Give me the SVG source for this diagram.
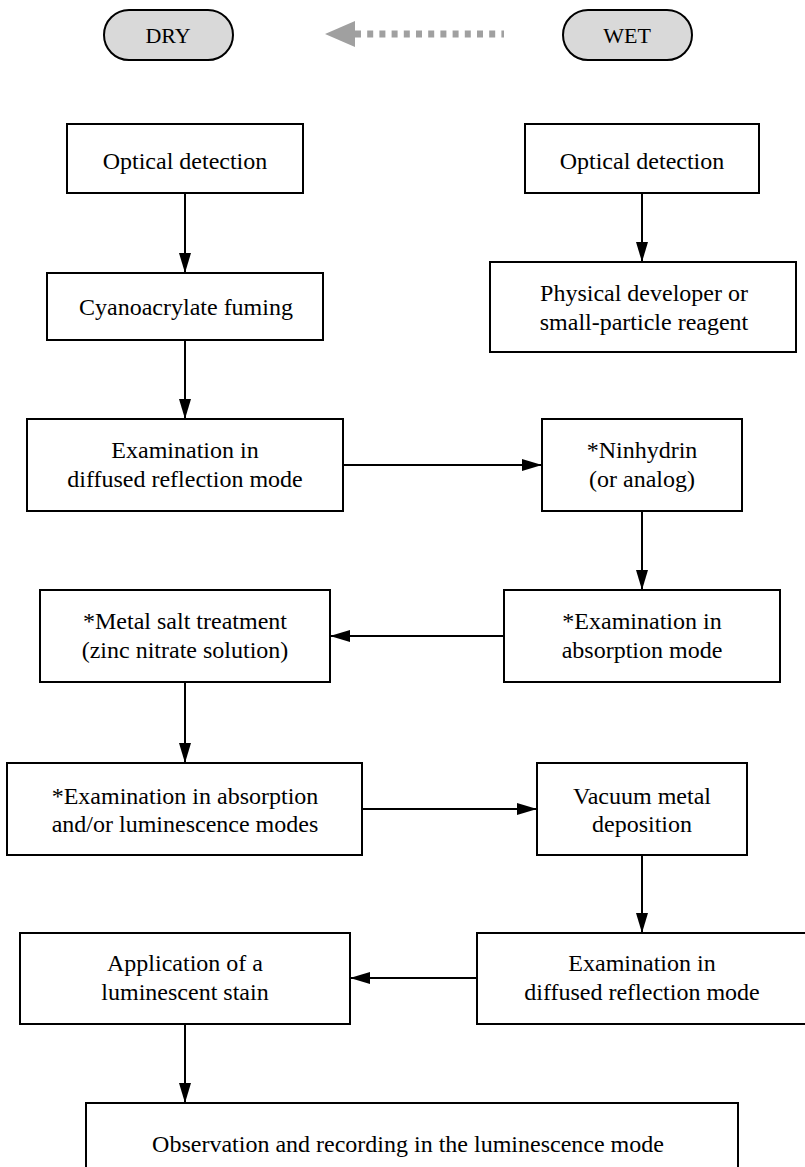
<svg xmlns="http://www.w3.org/2000/svg" width="805" height="1167" viewBox="0 0 805 1167">
<style>
.box{fill:#fff;stroke:#000;stroke-width:2}
.pill{fill:#d9d9d9;stroke:#000;stroke-width:2}
.t{font-family:"Liberation Serif","Times New Roman",serif;font-size:24px;fill:#000;text-anchor:middle}
.p{font-family:"Liberation Serif","Times New Roman",serif;font-size:22px;fill:#000;text-anchor:middle}
.c{stroke:#000;stroke-width:2;fill:none;marker-end:url(#ah)}
</style>
<defs>
<marker id="ah" viewBox="0 0 20 12" refX="20" refY="6" markerWidth="20" markerHeight="12" markerUnits="userSpaceOnUse" orient="auto">
<path d="M0,0 L20,6 L0,12 Z" fill="#000"/>
</marker>
</defs>
<rect width="805" height="1167" fill="#fff"/>
<g id="dry"><rect class="pill" x="104" y="10" width="129" height="50" rx="25"/><text class="p" x="168" y="43">DRY</text></g>
<g id="wet"><rect class="pill" x="563" y="10" width="129" height="50" rx="25"/><text class="p" x="627" y="43">WET</text></g>
<g id="legend-arrow">
<line x1="355" y1="34" x2="504" y2="34" stroke="#a0a0a0" stroke-width="7" stroke-dasharray="6,6.2"/>
<path d="M325,34 L355,21 L355,47 Z" fill="#a0a0a0"/>
</g>
<g id="n1"><rect class="box" x="67" y="124" width="236" height="69"/><text class="t" x="185" y="169">Optical detection</text></g>
<g id="n2"><rect class="box" x="47" y="273" width="276" height="67"/><text class="t" x="186" y="315">Cyanoacrylate fuming</text></g>
<g id="n3"><rect class="box" x="27" y="419" width="316" height="92"/><text class="t" x="185" y="458">Examination in</text><text class="t" x="185" y="487">diffused reflection mode</text></g>
<g id="n4"><rect class="box" x="542" y="419" width="200" height="92"/><text class="t" x="642" y="458">*Ninhydrin</text><text class="t" x="642" y="487">(or analog)</text></g>
<g id="n5"><rect class="box" x="504" y="590" width="276" height="92"/><text class="t" x="642" y="629">*Examination in</text><text class="t" x="642" y="658">absorption mode</text></g>
<g id="n6"><rect class="box" x="40" y="590" width="290" height="92"/><text class="t" x="185" y="629">*Metal salt treatment</text><text class="t" x="185" y="658">(zinc nitrate solution)</text></g>
<g id="n7"><rect class="box" x="7" y="763" width="355" height="92"/><text class="t" x="185" y="804">*Examination in absorption</text><text class="t" x="185" y="832">and/or luminescence modes</text></g>
<g id="n8"><rect class="box" x="537" y="763" width="210" height="92"/><text class="t" x="642" y="804">Vacuum metal</text><text class="t" x="642" y="832">deposition</text></g>
<g id="n9"><rect class="box" x="477" y="933" width="336" height="91"/><text class="t" x="642" y="971">Examination in</text><text class="t" x="642" y="1000">diffused reflection mode</text></g>
<g id="n10"><rect class="box" x="20" y="933" width="330" height="91"/><text class="t" x="185" y="971">Application of a</text><text class="t" x="185" y="1000">luminescent stain</text></g>
<g id="n11"><rect class="box" x="86" y="1103" width="652" height="80"/><text class="t" x="408" y="1152">Observation and recording in the luminescence mode</text></g>
<g id="w1"><rect class="box" x="525" y="124" width="234" height="69"/><text class="t" x="642" y="169">Optical detection</text></g>
<g id="w2"><rect class="box" x="490" y="262" width="306" height="90"/><text class="t" x="644" y="301">Physical developer or</text><text class="t" x="644" y="330">small-particle reagent</text></g>
<g id="connectors">
<line class="c" x1="185" y1="193" x2="185" y2="273"/>
<line class="c" x1="185" y1="340" x2="185" y2="419"/>
<line class="c" x1="343" y1="465" x2="542" y2="465"/>
<line class="c" x1="642" y1="511" x2="642" y2="590"/>
<line class="c" x1="504" y1="636" x2="330" y2="636"/>
<line class="c" x1="185" y1="682" x2="185" y2="763"/>
<line class="c" x1="362" y1="809" x2="537" y2="809"/>
<line class="c" x1="642" y1="855" x2="642" y2="933"/>
<line class="c" x1="477" y1="978" x2="350" y2="978"/>
<line class="c" x1="185" y1="1024" x2="185" y2="1103"/>
<line class="c" x1="642" y1="193" x2="642" y2="262"/>
</g>
</svg>
